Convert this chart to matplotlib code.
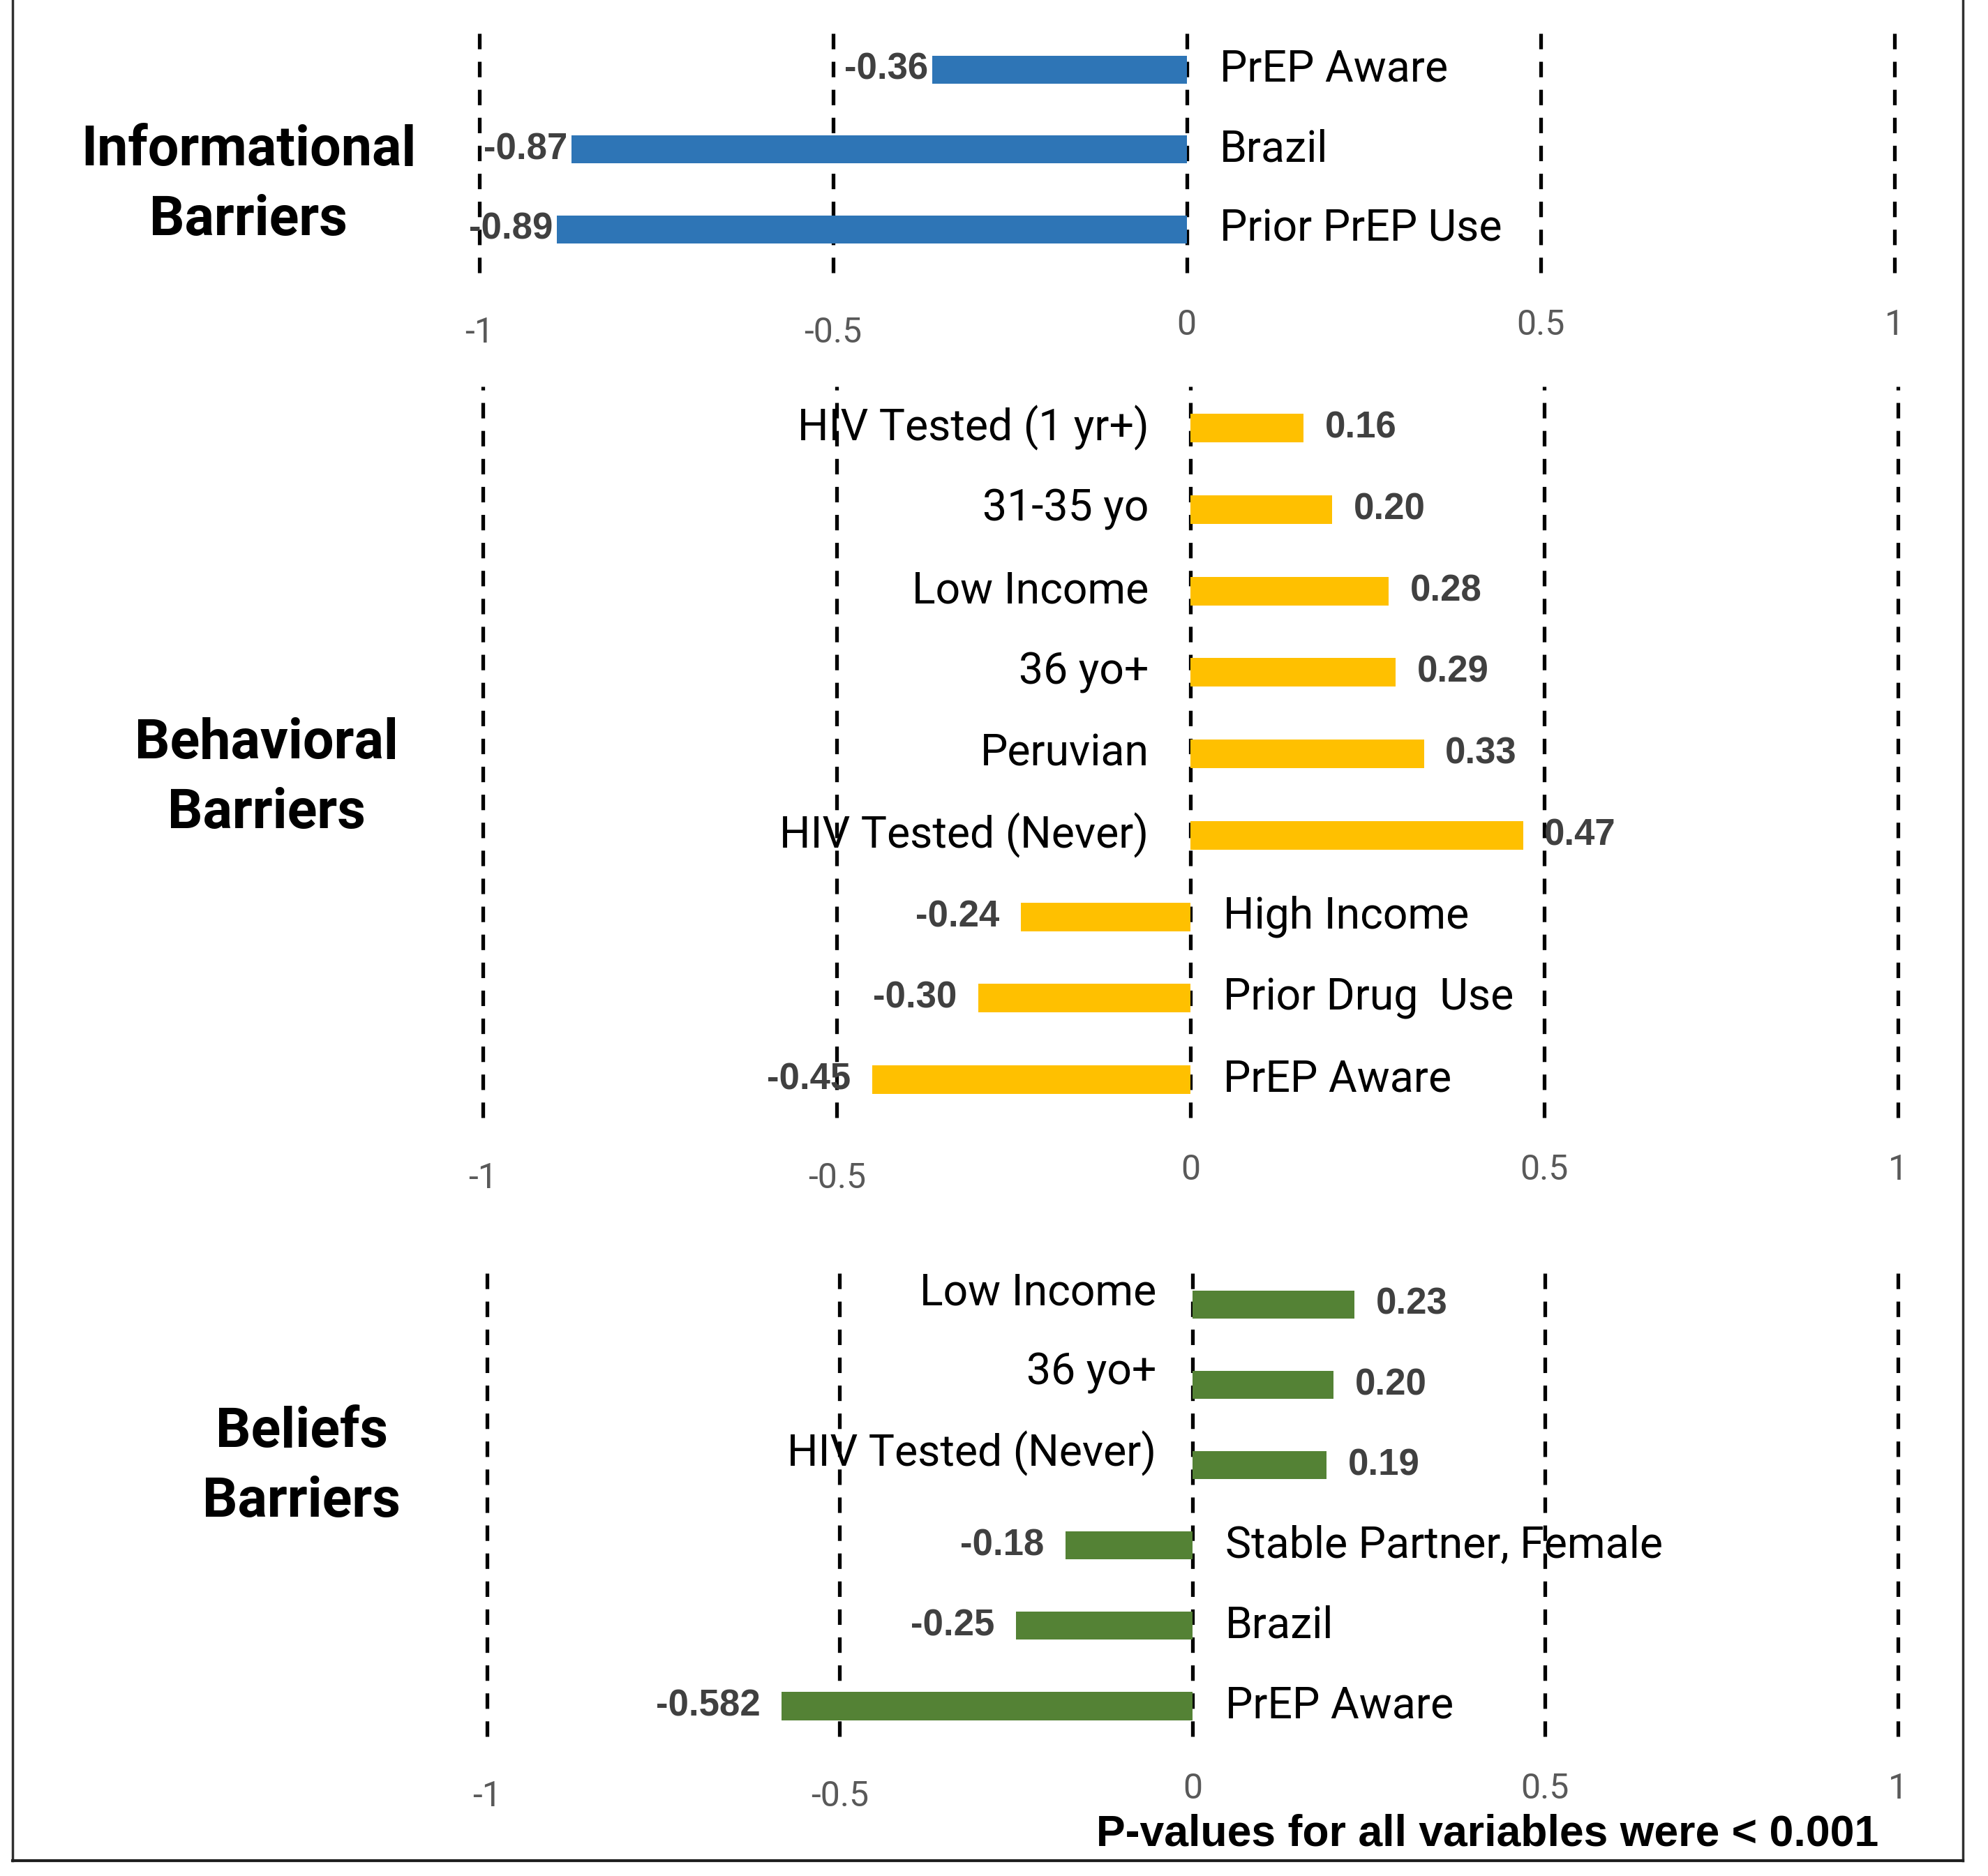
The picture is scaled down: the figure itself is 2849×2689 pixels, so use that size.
import matplotlib
matplotlib.use("Agg")
import matplotlib.pyplot as plt
from matplotlib.lines import Line2D

# ---- data -------------------------------------------------------------
info_labels = ["PrEP Aware", "Brazil", "Prior PrEP Use"]
info_values = [-0.36, -0.87, -0.89]
info_text = ["-0.36", "-0.87", "-0.89"]

behav_labels = ["HIV Tested (1 yr+)", "31-35 yo", "Low Income", "36 yo+", "Peruvian",
                "HIV Tested (Never)", "High Income", "Prior Drug  Use", "PrEP Aware"]
behav_values = [0.16, 0.20, 0.28, 0.29, 0.33, 0.47, -0.24, -0.30, -0.45]
behav_text = ["0.16", "0.20", "0.28", "0.29", "0.33", "0.47", "-0.24", "-0.30", "-0.45"]

belief_labels = ["Low Income", "36 yo+", "HIV Tested (Never)", "Stable Partner, Female",
                 "Brazil", "PrEP Aware"]
belief_values = [0.23, 0.20, 0.19, -0.18, -0.25, -0.582]
belief_text = ["0.23", "0.20", "0.19", "-0.18", "-0.25", "-0.582"]

group_titles = ["Informational\nBarriers", "Behavioral\nBarriers", "Beliefs\nBarriers"]
tick_values = [-1, -0.5, 0, 0.5, 1]
tick_text = ["-1", "-0.5", "0", "0.5", "1"]
footnote = "P-values for all variables were < 0.001"

# ---- style ------------------------------------------------------------
W, H = 2849, 2689
DPI = 100
REF_W, REF_H = 1568.0, 1480.0   # layout grid used for placing panels

LABEL_FONT = ["Roboto", "DejaVu Sans"]
VALUE_FONT = ["Liberation Sans Narrow", "Liberation Sans", "DejaVu Sans"]

fig = plt.figure(figsize=(W / DPI, H / DPI), dpi=DPI)
fig.patch.set_facecolor("white")


def fx(x):
    return x / REF_W


def fy(y):
    return 1 - y / REF_H


def panel(x0, x1, ytop, ybot, ylim, labels, values, texts, color,
          title, title_xy, val_gap, left_lab_dx=-38, left_lab_dy=0.0):
    ax = fig.add_axes([fx(x0), fy(ybot), fx(x1) - fx(x0), fy(ytop) - fy(ybot)])
    ax.set_xlim(-1, 1)
    ax.set_ylim(ylim[1], ylim[0])
    ax.axis("off")
    pos = list(range(len(values)))
    ax.barh(pos, values, height=0.35, color=color, zorder=3)
    for t in tick_values:
        ax.add_line(Line2D([t, t], [0, 1], transform=ax.get_xaxis_transform(),
                           color="black", lw=3.8, dashes=(4.2, 3.4), zorder=2,
                           clip_on=False, dash_capstyle="butt"))
    for t, s in zip(tick_values, tick_text):
        dy = -62 if t < 0 else -54
        ax.annotate(s, xy=(t, 0), xycoords=("data", "axes fraction"),
                    xytext=(0, dy), textcoords="offset points",
                    ha="center", va="center", fontsize=36, color="#595959",
                    family=LABEL_FONT)
    for i, (v, s, lab) in enumerate(zip(values, texts, labels)):
        if v >= 0:
            ax.annotate(s, xy=(v, i), xytext=(val_gap, 0), textcoords="offset points",
                        ha="left", va="center", fontsize=38, fontweight="bold",
                        color="#404040", family=VALUE_FONT, zorder=4)
            ax.annotate(lab, xy=(0, i), xytext=(left_lab_dx, left_lab_dy),
                        textcoords="offset points",
                        ha="right", va="center", fontsize=45, color="black",
                        family=LABEL_FONT, zorder=1)
        else:
            ax.annotate(s, xy=(v, i), xytext=(-val_gap, 0), textcoords="offset points",
                        ha="right", va="center", fontsize=38, fontweight="bold",
                        color="#404040", family=VALUE_FONT, zorder=4)
            ax.annotate(lab, xy=(0, i), xytext=(34, 0), textcoords="offset points",
                        ha="left", va="center", fontsize=45, color="black",
                        family=LABEL_FONT, zorder=1)
    fig.text(fx(title_xy[0]), fy(title_xy[1]), title, ha="center", va="center",
             fontsize=57, fontweight="bold", family=LABEL_FONT, linespacing=1.42)
    return ax


panel(378, 1494, 22, 215, (-0.524, 2.54), info_labels, info_values, info_text,
      "#2E75B6", group_titles[0], (196, 146), val_gap=4)
panel(381, 1497, 305, 882, (-0.51, 8.47), behav_labels, behav_values, behav_text,
      "#FFC000", group_titles[1], (210, 614), val_gap=22, left_lab_dx=-43)
panel(384, 1497, 995, 1370, (-0.54, 5.38), belief_labels, belief_values, belief_text,
      "#548235", group_titles[2], (238, 1157), val_gap=22, left_lab_dx=-37,
      left_lab_dy=12)

fig.text(fx(1482), fy(1447), footnote, ha="right", va="center", fontsize=45,
         fontweight="bold", family=VALUE_FONT)

# outer frame
frame = dict(color="#303030", lw=2.5, transform=fig.transFigure)
fig.add_artist(Line2D([fx(10), fx(10)], [fy(1468), 1], **frame))
fig.add_artist(Line2D([fx(1548), fx(1548)], [fy(1468), 1], **frame))
fig.add_artist(Line2D([fx(10), fx(1548)], [fy(1468), fy(1468)], color="#202020", lw=3.0,
                      transform=fig.transFigure))

fig.savefig("out.png", dpi=DPI, facecolor="white")
